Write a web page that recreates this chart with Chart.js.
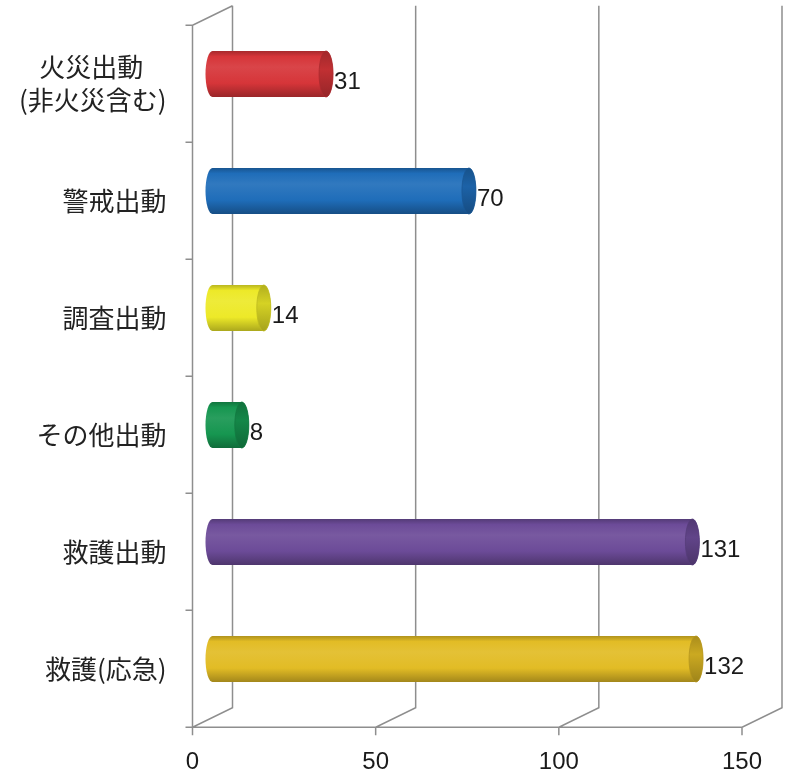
<!DOCTYPE html>
<html><head><meta charset="utf-8">
<script src="https://cdn.jsdelivr.net/npm/chart.js@4/dist/chart.umd.min.js"></script>
<style>html,body{margin:0;padding:0;background:#fff}#wrap{width:786px;height:775px}</style>
</head><body><div id="wrap"><canvas id="c" width="786" height="775"></canvas></div>
<script>
const categories = [['火災出動    ', '(非火災含む)'], '警戒出動', '調査出動', 'その他出動', '救護出動', '救護(応急)'];
const values = [31, 70, 14, 8, 131, 132];
const barColors = ['#D63539', '#1F6DB9', '#EDE928', '#169650', '#6C4B98', '#E2BC25'];
const xTicks = [0, 50, 100, 150];

const HX = 20, HY = 9.75, RX = 7;

function shade(hex, f) {
  const n = parseInt(hex.slice(1), 16);
  let r = (n >> 16) & 255, g = (n >> 8) & 255, b = n & 255;
  const t = f < 0 ? 0 : 255, p = Math.abs(f);
  r = Math.round(r + (t - r) * p); g = Math.round(g + (t - g) * p); b = Math.round(b + (t - b) * p);
  return `rgb(${r},${g},${b})`;
}

const frame3d = {
  id: 'frame3d',
  beforeDatasetsDraw(chart) {
    const { ctx, chartArea: a, scales: { x } } = chart;
    const x0 = x.getPixelForValue(xTicks[0]);
    const xEnd = x.getPixelForValue(xTicks[xTicks.length - 1]);
    ctx.save();
    ctx.strokeStyle = '#8e8e8e';
    ctx.lineWidth = 1.5;
    ctx.beginPath();
    xTicks.forEach(v => {
      const px = x.getPixelForValue(v);
      ctx.moveTo(px + HX, a.top - HY);
      ctx.lineTo(px + HX, a.bottom - HY);
      ctx.lineTo(px - HX, a.bottom + HY);
      ctx.lineTo(px - HX, a.bottom + HY + 8);
    });
    ctx.moveTo(x0 - HX, a.bottom + HY);
    ctx.lineTo(xEnd - HX, a.bottom + HY);
    ctx.moveTo(x0 - HX, a.bottom + HY);
    ctx.lineTo(x0 - HX, a.top + HY);
    ctx.lineTo(x0 + HX, a.top - HY);
    const n = categories.length;
    for (let i = 0; i <= n; i++) {
      const yy = a.top + (a.bottom - a.top) * i / n + HY;
      ctx.moveTo(x0 - HX - 7, yy);
      ctx.lineTo(x0 - HX, yy);
    }
    ctx.stroke();
    ctx.restore();
  },
  beforeDatasetDraw(chart, args) {
    const ctx = chart.ctx;
    ctx.save();
    args.meta.data.forEach((bar, i) => {
      const { x: xe, y: yc, base, height } = bar.getProps(['x', 'y', 'base', 'height']);
      const top = yc - height / 2, bot = yc + height / 2, r = height / 2;
      const col = barColors[i];
      const g = ctx.createLinearGradient(0, top, 0, bot);
      g.addColorStop(0, shade(col, -0.22));
      g.addColorStop(0.12, col);
      g.addColorStop(0.35, shade(col, 0.08));
      g.addColorStop(0.7, col);
      g.addColorStop(1, shade(col, -0.28));
      ctx.beginPath();
      ctx.moveTo(base, top);
      ctx.lineTo(xe, top);
      ctx.ellipse(xe, yc, RX, r, 0, -Math.PI / 2, Math.PI / 2, false);
      ctx.lineTo(base, bot);
      ctx.ellipse(base, yc, RX, r, 0, Math.PI / 2, 3 * Math.PI / 2, false);
      ctx.closePath();
      ctx.fillStyle = g;
      ctx.fill();
      const g2 = ctx.createLinearGradient(0, top, 0, bot);
      g2.addColorStop(0, shade(col, -0.25));
      g2.addColorStop(0.4, shade(col, -0.1));
      g2.addColorStop(1, shade(col, -0.3));
      ctx.beginPath();
      ctx.ellipse(xe, yc, RX, r, 0, 0, 2 * Math.PI);
      ctx.fillStyle = g2;
      ctx.fill();
      ctx.strokeStyle = shade(col, -0.2);
      ctx.lineWidth = 0.8;
      ctx.stroke();
    });
    ctx.restore();
    return false;
  },
  afterDatasetsDraw(chart) {
    const ctx = chart.ctx;
    const meta = chart.getDatasetMeta(0);
    ctx.save();
    ctx.font = '24px "Liberation Sans"';
    ctx.fillStyle = '#1a1a1a';
    ctx.textAlign = 'left';
    ctx.textBaseline = 'middle';
    meta.data.forEach((bar, i) => {
      const { x: xe, y: yc } = bar.getProps(['x', 'y']);
      ctx.fillText(String(values[i]), xe + RX + 1, yc + 8);
    });
    ctx.restore();
  }
};

new Chart(document.getElementById('c'), {
  type: 'bar',
  data: {
    labels: categories,
    datasets: [{ data: values, backgroundColor: barColors, barPercentage: 0.393, categoryPercentage: 1 }]
  },
  options: {
    indexAxis: 'y',
    responsive: false,
    devicePixelRatio: 1,
    animation: false,
    layout: { padding: { top: 15.5, right: 24, left: 0, bottom: 0 } },
    plugins: { legend: { display: false }, tooltip: { enabled: false } },
    scales: {
      x: {
        type: 'linear', min: 0, max: 150,
        afterBuildTicks: s => { s.ticks = xTicks.map(v => ({ value: v })); },
        afterFit: s => { s.height = 57.5; s.paddingLeft = 0; s.paddingRight = 0; },
        grid: { display: false, drawTicks: false },
        border: { display: false },
        ticks: { font: { family: 'Liberation Sans', size: 24 }, color: '#1a1a1a', labelOffset: -20, padding: 30, maxRotation: 0, autoSkip: false }
      },
      y: {
        afterFit: s => { s.width = 212.5; s.paddingTop = 0; s.paddingBottom = 0; },
        grid: { display: false, drawTicks: false },
        border: { display: false },
        ticks: { font: { family: 'Noto Sans CJK JP', size: 26, lineHeight: 1.27 }, color: '#222', padding: 46, labelOffset: 10, autoSkip: false }
      }
    }
  },
  plugins: [frame3d]
});
</script></body></html>
